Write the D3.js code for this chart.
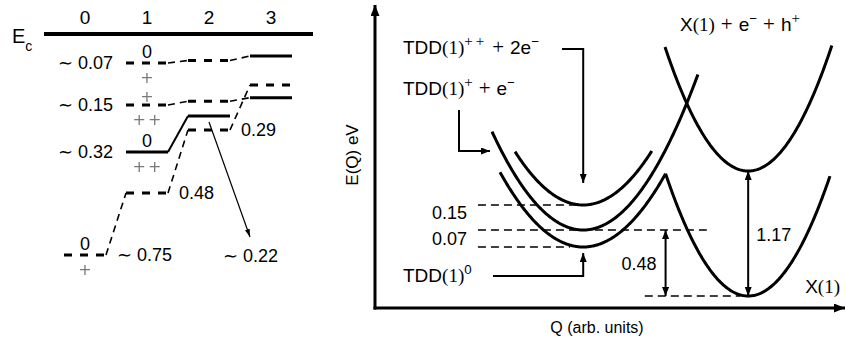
<!DOCTYPE html>
<html>
<head>
<meta charset="utf-8">
<script src="https://cdn.jsdelivr.net/npm/d3@7"></script>
<style>
  html, body { margin: 0; padding: 0; background: #fff; }
  svg { display: block; }
</style>
</head>
<body>
<svg id="fig" width="846" height="341"></svg>
<script>
// ---------------- left panel: donor levels below Ec, cluster size 0–3 ----------------
const clusterSizes = [0, 1, 2, 3];
// depths (eV below Ec) at which the schematic energy axis is anchored
const depthKnots = [0, 0.07, 0.15, 0.22, 0.29, 0.32, 0.48, 0.75];
// level tracks: [cluster size, depth in eV, stable (solid) level?]
const shallowTrack = [[1, 0.07, false], [2, 0.064, false], [3, 0.053, true]];
const middleTrack  = [[1, 0.15, false], [2, 0.143, false], [3, 0.136, true]];
const deepTrack    = [[1, 0.32, true], [2, 0.22, true]];
const groundTrack  = [[0, 0.75, false], [1, 0.48, false], [2, 0.29, false], [3, 0.112, false]];
// charge state marks: [cluster size, depth, state above level, state below level]
const chargeMarks = [[0, 0.75, "0", "+"], [1, 0.07, "0", "+"], [1, 0.15, "+", "++"], [1, 0.32, "0", "++"]];
// depth labels: [cluster size, depth, side, approximate?]
const depthLabels = [[1, 0.07, "left", true], [1, 0.15, "left", true], [1, 0.32, "left", true],
                     [2, 0.29, "right", false], [1, 0.48, "right", false], [0, 0.75, "right", true]];
const pointedLevel = [2, 0.22];

// ---------------- right panel: configuration-coordinate diagram ----------------
const curveNames     = ["TDD(1)0", "TDD(1)+", "TDD(1)++", "X(1)", "X(1)+e+h"];
const curveCentres   = [44.3, 44.3, 44.3, 79.4, 79.4];     // Q (arb. units)
const curveMinima    = [0.41, 0.48, 0.56, 0.0, 1.17];      // eV
const curveStiffness = [0.00223, 0.00244, 0.00237, 0.0037, 0.0037]; // eV per Q²
const curveFrom      = [26.6, 24.9, 29.8, null, 61.7];     // null: starts at the TDD(1)0 / X(1) crossing
const curveTo        = [null, 68.7, 58.9, 96.8, 97.2];     // null: ends at that crossing

const SANS = "'Liberation Sans', 'DejaVu Sans', sans-serif";
const SERIF = "'Liberation Serif', 'DejaVu Serif', serif";
const PLUS = "'DejaVu Sans', sans-serif";
const fmt = d3.format(".2f");
const svg = d3.select("#fig");

// arrow markers
const defs = svg.append("defs");
function marker(id, w, h) {
  defs.append("marker").attr("id", id)
    .attr("viewBox", `0 0 ${w} ${h}`).attr("markerUnits", "userSpaceOnUse")
    .attr("markerWidth", w).attr("markerHeight", h)
    .attr("refX", w).attr("refY", h / 2).attr("orient", "auto-start-reverse")
    .append("path").attr("d", `M0,0L${w},${h / 2}L0,${h}Z`).attr("fill", "#000");
}
marker("ah", 9, 7);
marker("ahThin", 8, 5);
marker("ahAxis", 11, 9);

// rich text with sub/superscripts; parts: {t, serif, sup, sub, dx, ls, size}
function rich(g, x, y, parts, fs, anchor) {
  const t = g.append("text").attr("x", x).attr("y", y)
    .attr("text-anchor", anchor || "start").style("font-size", fs + "px").style("font-family", SANS);
  let shift = 0;
  parts.forEach(p => {
    const target = p.sup ? -0.4 * fs : p.sub ? 0.4 * fs : 0;
    const s = t.append("tspan").attr("dy", target - shift).text(p.t)
      .style("font-family", p.serif ? SERIF : SANS)
      .style("font-size", (p.size || (p.sup || p.sub ? 0.7 * fs : fs)) + "px");
    if (p.dx) s.attr("dx", p.dx);
    if (p.ls) s.style("letter-spacing", p.ls + "px");
    shift = target;
  });
  return t;
}

// ===== left panel =====
const L = svg.append("g");
const colX = d3.scalePoint().domain(clusterSizes).range([85, 271]);
const depthY = d3.scaleLinear().domain(depthKnots).range([34, 63, 105, 116, 130, 152, 193, 255]);
const half = 21;

// column headings and the conduction-band edge
L.selectAll("text.col").data(clusterSizes).join("text").attr("class", "col")
  .attr("x", d => colX(d)).attr("y", 24).attr("text-anchor", "middle")
  .style("font-family", SANS).style("font-size", "19px").text(d => d);
L.append("line").attr("x1", 44).attr("x2", 313).attr("y1", depthY(0)).attr("y2", depthY(0))
  .attr("stroke", "#000").attr("stroke-width", 4);
rich(L, 12, 43, [{ t: "E" }, { t: "c", sub: true, size: 14 }], 20);

// level tracks
[shallowTrack, middleTrack, deepTrack, groundTrack].forEach(track => {
  track.forEach(([c, d, solid], i) => {
    L.append("line")
      .attr("x1", colX(c) - half).attr("x2", colX(c) + half)
      .attr("y1", depthY(d)).attr("y2", depthY(d))
      .attr("stroke", "#000").attr("stroke-width", 3)
      .attr("stroke-dasharray", solid ? null : "8,8");
    if (i > 0) {
      const [pc, pd, psolid] = track[i - 1];
      L.append("line")
        .attr("x1", colX(pc) + half).attr("y1", depthY(pd))
        .attr("x2", colX(c) - half).attr("y2", depthY(d))
        .attr("stroke", "#000").attr("stroke-width", solid && psolid ? 2 : 1.6)
        .attr("stroke-dasharray", solid && psolid ? null : "7,5");
    }
  });
});

// charge states (neutral in black, positive states in grey)
const grey = L.append("g").style("filter", "grayscale(100%)");
const plusText = (x, y, s) => grey.append("text")
  .attr("x", x + (s.length > 1 ? 1 : 0)).attr("y", y).attr("text-anchor", "middle")
  .style("letter-spacing", s.length > 1 ? "2px" : null)
  .style("font-family", PLUS).style("font-size", "16px").attr("fill", "#7a7a7a").text(s);
chargeMarks.forEach(([c, d, above, below]) => {
  if (above === "0") {
    L.append("text").attr("x", colX(c)).attr("y", depthY(d) - 5).attr("text-anchor", "middle")
      .style("font-family", SANS).style("font-size", "18px").text(above);
  } else {
    plusText(colX(c), depthY(d) - 3, above);
  }
  plusText(colX(c), depthY(d) + 19.5, below);
});

// depth labels
depthLabels.forEach(([c, d, side, approx]) => {
  const x = side === "left" ? colX(c) - half - 13 : colX(c) + half + 11;
  L.append("text").attr("x", x).attr("y", depthY(d) + 6)
    .attr("text-anchor", side === "left" ? "end" : "start")
    .style("font-family", SANS).style("font-size", "18px")
    .text((approx ? "∼ " : "") + fmt(d));
});

// the level pointed to by the arrow
const [pcol, pdep] = pointedLevel;
L.append("line").attr("x1", colX(pcol)).attr("y1", depthY(pdep) + 6)
  .attr("x2", colX(pcol) + 41).attr("y2", depthY(0.75) - 18)
  .attr("stroke", "#000").attr("stroke-width", 1.2).attr("marker-end", "url(#ahThin)");
L.append("text").attr("x", colX(pcol) + 14).attr("y", depthY(0.75) + 7)
  .style("font-family", SANS).style("font-size", "18px").text("∼ " + fmt(pdep));

// ===== right panel =====
const R = svg.append("g");
const qScale = d3.scaleLinear().domain([0, 100]).range([375, 845]);
const eScale = d3.scaleLinear().domain([0, 0.41, 0.48, 0.56, 1.17]).range([296, 247, 230, 205, 171]);
const riseScale = d3.scaleLinear().domain([0, 1]).range([0, 107]);

const curveY = (i, q) => eScale(curveMinima[i]) - riseScale(curveStiffness[i] * (q - curveCentres[i]) ** 2);

// crossing of TDD(1)0 and X(1) between the two minima
let lo = curveCentres[0], hi = curveCentres[3];
for (let k = 0; k < 60; k++) {
  const mid = (lo + hi) / 2;
  if (curveY(0, mid) > curveY(3, mid)) lo = mid; else hi = mid;
}
const qCross = (lo + hi) / 2;

const lineGen = d3.line().x(d => qScale(d[0])).y(d => d[1]);
curveNames.forEach((name, i) => {
  const a = curveFrom[i] ?? qCross, b = curveTo[i] ?? qCross;
  const pts = d3.range(a, b, 0.2).concat([b]).map(q => [q, curveY(i, q)]);
  R.append("path").attr("d", lineGen(pts)).attr("fill", "none")
    .attr("stroke", "#000").attr("stroke-width", 3).attr("stroke-linejoin", "miter");
});

// axes
const yBase = 308;
R.append("line").attr("x1", qScale(0)).attr("x2", qScale(0)).attr("y1", yBase + 1.5).attr("y2", 5)
  .attr("stroke", "#000").attr("stroke-width", 3).attr("marker-end", "url(#ahAxis)");
R.append("line").attr("x1", qScale(0) - 1.5).attr("x2", 845).attr("y1", yBase).attr("y2", yBase)
  .attr("stroke", "#000").attr("stroke-width", 3).attr("marker-end", "url(#ahAxis)");
R.append("text").attr("transform", `translate(358,155) rotate(-90)`).attr("text-anchor", "middle")
  .style("font-family", SANS).style("font-size", "17px").text("E(Q) eV");
R.append("text").attr("x", 597).attr("y", 333).attr("text-anchor", "middle")
  .style("font-family", SANS).style("font-size", "16px").text("Q (arb. units)");

// reference levels
const dashed = (q1, q2, e) => R.append("line")
  .attr("x1", qScale(q1)).attr("x2", qScale(q2)).attr("y1", eScale(e)).attr("y2", eScale(e))
  .attr("stroke", "#000").attr("stroke-width", 1.3).attr("stroke-dasharray", "8,5");
dashed(21.9, 42.6, curveMinima[2]);
dashed(21.9, 70.6, curveMinima[1]);
dashed(21.9, 41.5, curveMinima[0]);
dashed(57.4, 77.7, curveMinima[3]);

R.append("text").attr("x", 467).attr("y", eScale(curveMinima[2]) + 14).attr("text-anchor", "end")
  .style("font-family", SANS).style("font-size", "18px").text(fmt(curveMinima[2] - curveMinima[0]));
R.append("text").attr("x", 467).attr("y", eScale(curveMinima[1]) + 15).attr("text-anchor", "end")
  .style("font-family", SANS).style("font-size", "18px").text(fmt(curveMinima[1] - curveMinima[0]));

// energy gaps
const gapArrow = (q, e1, e2) => R.append("line")
  .attr("x1", qScale(q)).attr("x2", qScale(q)).attr("y1", eScale(e1)).attr("y2", eScale(e2))
  .attr("stroke", "#000").attr("stroke-width", 2)
  .attr("marker-start", "url(#ah)").attr("marker-end", "url(#ah)");
gapArrow(qCross, curveMinima[1], curveMinima[3]);
gapArrow(curveCentres[3], curveMinima[4], curveMinima[3]);
R.append("text").attr("x", qScale(qCross) - 9).attr("y", (eScale(curveMinima[1]) + eScale(curveMinima[3])) / 2 + 7)
  .attr("text-anchor", "end").style("font-family", SANS).style("font-size", "18px")
  .text(fmt(curveMinima[1] - curveMinima[3]));
R.append("text").attr("x", qScale(curveCentres[3]) + 8).attr("y", (eScale(curveMinima[4]) + eScale(curveMinima[3])) / 2 + 7)
  .style("font-family", SANS).style("font-size", "18px")
  .text(fmt(curveMinima[4] - curveMinima[3]));

// curve labels
const fs = 19;
rich(R, 403, 54, [{ t: "TDD" }, { t: "(1)", serif: true }, { t: "++", sup: true, serif: true, ls: 3, size: 15 },
  { t: "+", serif: true, dx: 5, size: 21 }, { t: "2e", dx: 6 }, { t: "−", sup: true }], fs);
rich(R, 403, 95, [{ t: "TDD" }, { t: "(1)", serif: true }, { t: "+", sup: true, serif: true, size: 15 },
  { t: "+", serif: true, dx: 6, size: 21 }, { t: "e", dx: 6 }, { t: "−", sup: true }], fs);
rich(R, 403, 282, [{ t: "TDD" }, { t: "(1)", serif: true }, { t: "0", sup: true }], fs);
rich(R, 680, 31, [{ t: "X" }, { t: "(1)", serif: true }, { t: "+", serif: true, dx: 6, size: 21 }, { t: "e", dx: 6 },
  { t: "−", sup: true }, { t: "+", serif: true, dx: 6, size: 21 }, { t: "h", dx: 6 }, { t: "+", sup: true, serif: true, size: 15 }], fs);
rich(R, 840, 293, [{ t: "X" }, { t: "(1)", serif: true }], fs, "end");

// pointer arrows from labels to curves
const xTDD = qScale(curveCentres[0]);
const pointer = pts => R.append("path").attr("d", d3.line()(pts)).attr("fill", "none")
  .attr("stroke", "#000").attr("stroke-width", 2).attr("marker-end", "url(#ah)");
pointer([[562, 49], [xTDD, 49], [xTDD, eScale(curveMinima[2]) - 22]]);
pointer([[459, 110], [459, 151], [490, 151]]);
pointer([[493, 276], [xTDD, 276], [xTDD, eScale(curveMinima[0]) + 6]]);
</script>
</body>
</html>
